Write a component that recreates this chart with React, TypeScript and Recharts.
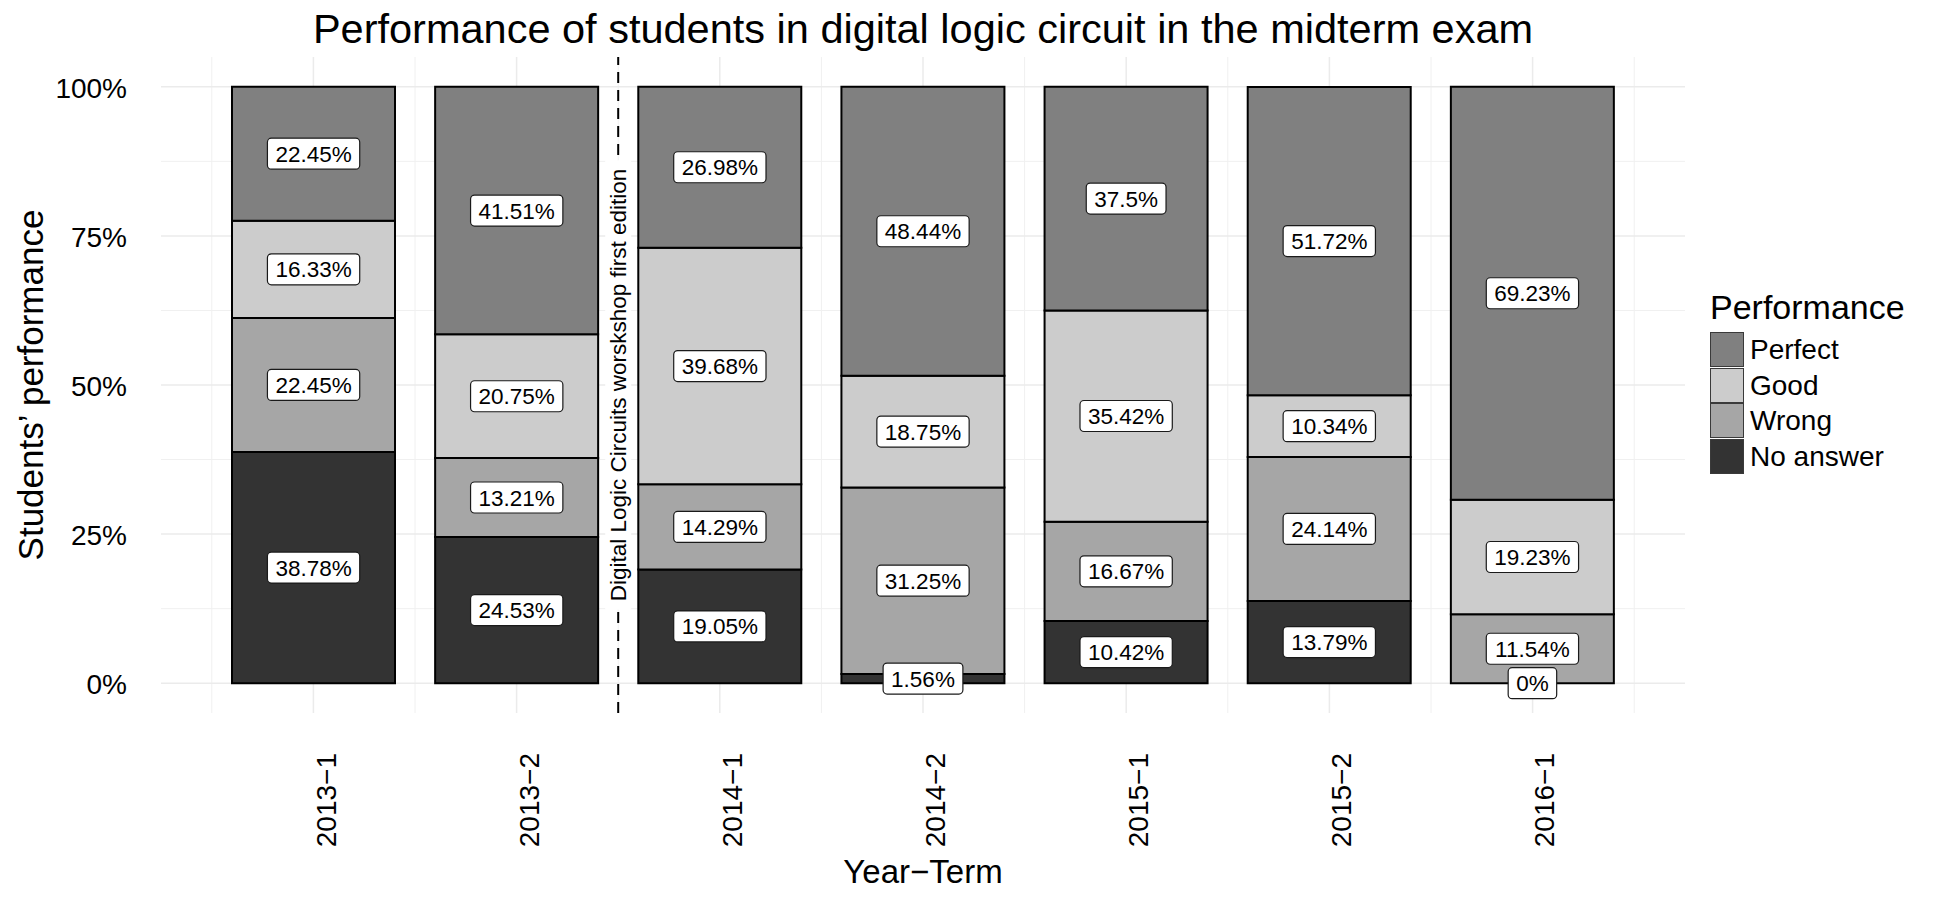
import React from 'react';
import {
  BarChart,
  Bar,
  XAxis,
  YAxis,
  CartesianGrid,
  ReferenceLine,
  ReferenceDot,
  Legend,
} from 'recharts';

// Year-term categories and the share (%) of each performance level
const terms = ['2013−1', '2013−2', '2014−1', '2014−2', '2015−1', '2015−2', '2016−1'];
const perfect = [22.45, 41.51, 26.98, 48.44, 37.5, 51.72, 69.23];
const good = [16.33, 20.75, 39.68, 18.75, 35.42, 10.34, 19.23];
const wrong = [22.45, 13.21, 14.29, 31.25, 16.67, 24.14, 11.54];
const noAnswer = [38.78, 24.53, 19.05, 1.56, 10.42, 13.79, 0];

const yTicks = [0, 25, 50, 75, 100];
const yMinor = [12.5, 37.5, 62.5, 87.5];
const xMajor = [1, 2, 3, 4, 5, 6, 7];
const xMinor = [0.5, 1.5, 2.5, 3.5, 4.5, 5.5, 6.5, 7.5];

// workshop marker sits between 2013-2 and 2014-1
const workshopAt = 2.5;
const workshopNoteAt = 50;
const workshopText = 'Digital Logic Circuits worskshop first edition';

// stacking order bottom -> top
const series = [
  { key: 'noAnswer', name: 'No answer', color: '#333333', values: noAnswer },
  { key: 'wrong', name: 'Wrong', color: '#A6A6A6', values: wrong },
  { key: 'good', name: 'Good', color: '#CCCCCC', values: good },
  { key: 'perfect', name: 'Perfect', color: '#808080', values: perfect },
];
const legendOrder = ['perfect', 'good', 'wrong', 'noAnswer'];

const rows = terms.map((term, i) => ({
  term,
  pos: i + 1,
  perfect: perfect[i],
  good: good[i],
  wrong: wrong[i],
  noAnswer: noAnswer[i],
}));

// one label per stacked segment, placed at the middle of the segment
const segmentLabels = terms.flatMap((term, i) => {
  let base = 0;
  return series.map((s) => {
    const v = s.values[i];
    const mid = base + v / 2;
    base += v;
    return { term, key: s.key, value: v, mid };
  });
});

const FONT = '"Liberation Sans", Arial, Helvetica, sans-serif';

// rough Arial advance widths, enough to size the label boxes
const charW: Record<string, number> = { '.': 0.278, '%': 0.889 };
const textWidth = (s: string, size: number) =>
  s.split('').reduce((acc, c) => acc + (charW[c] ?? 0.556), 0) * size;

const ValueLabel = (props: any) => {
  const { cx, cy, value } = props;
  if (cx == null || cy == null) return null;
  const text = `${value}%`;
  const w = textWidth(text, 22.5) + 16;
  const h = 31;
  return (
    <g>
      <rect x={cx - w / 2} y={cy - h / 2} width={w} height={h} rx={4} ry={4}
        fill="#ffffff" stroke="#1a1a1a" strokeWidth={1.2} />
      <text x={cx} y={cy + 8} textAnchor="middle" fontSize={22.5} fill="#000"
        style={{ fontFamily: FONT }}>{text}</text>
    </g>
  );
};

const WorkshopNote = (props: any) => {
  const { cx, cy } = props;
  if (cx == null || cy == null) return null;
  // letters are narrower than digits, so scale the digit-based estimate down
  const len = textWidth(workshopText, 22.5) * 0.76 + 12;
  return (
    <g>
      <rect x={cx - 13} y={cy - len / 2} width={26} height={len} fill="#ffffff" />
      <text transform={`translate(${cx + 8},${cy}) rotate(-90)`} textAnchor="middle"
        fontSize={22.5} fill="#000" style={{ fontFamily: FONT }}>{workshopText}</text>
    </g>
  );
};

const XTick = (props: any) => {
  const { x, y, payload } = props;
  return (
    <text transform={`translate(${x + 22},${y}) rotate(-90)`} textAnchor="end"
      fontSize={28} fill="#000" style={{ fontFamily: FONT }}>{payload.value}</text>
  );
};

const YTick = (props: any) => {
  const { x, y, payload } = props;
  return (
    <text x={x} y={y + 11} textAnchor="end" fontSize={28} fill="#000"
      style={{ fontFamily: FONT }}>{`${payload.value}%`}</text>
  );
};

const YTitle = (props: any) => {
  const { viewBox } = props;
  const cy = viewBox.y + viewBox.height / 2;
  return (
    <text transform={`translate(${viewBox.x - 18},${cy}) rotate(-90)`} textAnchor="middle"
      fontSize={35} fill="#000" style={{ fontFamily: FONT }}>Students’ performance</text>
  );
};

const XTitle = (props: any) => {
  const { viewBox } = props;
  return (
    <text x={viewBox.x + viewBox.width / 2} y={viewBox.y + 170} textAnchor="middle"
      fontSize={33} fill="#000" style={{ fontFamily: FONT }}>Year−Term</text>
  );
};

const LegendBox = () => (
  <div style={{ fontFamily: FONT, color: '#000', width: 240 }}>
    <div style={{ fontSize: 34, lineHeight: '40px', height: 45 }}>Performance</div>
    {legendOrder.map((k) => {
      const s = series.find((d) => d.key === k)!;
      return (
        <div key={k} style={{ display: 'flex', alignItems: 'center', height: 35.5 }}>
          <div style={{ width: 32, height: 33, background: s.color, border: '1px solid #3a3a3a', boxSizing: 'content-box' }} />
          <span style={{ fontSize: 28, marginLeft: 6, lineHeight: '35px' }}>{s.name}</span>
        </div>
      );
    })}
  </div>
);

export default function App() {
  return (
    <div style={{ position: 'absolute', left: 0, top: 0, width: 1950, height: 900, background: '#fff', fontFamily: FONT }}>
      <div style={{ position: 'absolute', left: 161, width: 1524, top: 8, textAlign: 'center', fontSize: 41.5, lineHeight: 1, color: '#000', whiteSpace: 'nowrap' }}>
        Performance of students in digital logic circuit in the midterm exam
      </div>
      <BarChart width={1950} height={900} data={rows} barSize={163}
        margin={{ top: 57, right: 265, left: 61, bottom: 37 }}>
        <CartesianGrid xAxisId="pos" horizontalValues={yMinor} verticalValues={xMinor}
          stroke="#F0F0F0" strokeWidth={1} />
        <CartesianGrid xAxisId="pos" horizontalValues={yTicks} verticalValues={xMajor}
          stroke="#EBEBEB" strokeWidth={1.5} />
        <XAxis xAxisId="cat" dataKey="term" height={150} padding={{ left: 51, right: 51 }}
          axisLine={false} tickLine={false} tickSize={0} tickMargin={40}
          interval={0} tick={<XTick />} label={<XTitle />} />
        <XAxis xAxisId="pos" dataKey="pos" type="number" domain={[0.25, 7.75]} ticks={xMajor}
          hide allowDataOverflow />
        <YAxis type="number" domain={[-5, 105]} ticks={yTicks} width={100}
          axisLine={false} tickLine={false} tickSize={0} tickMargin={34}
          tick={<YTick />} label={<YTitle />} allowDataOverflow />
        <Legend layout="vertical" align="right" verticalAlign="top"
          wrapperStyle={{ left: 1710, top: 287, width: 0, height: 0, overflow: 'visible' }}
          content={() => <LegendBox />} />
        {series.map((s) => (
          <Bar key={s.key} xAxisId="cat" dataKey={s.key} name={s.name} stackId="perf"
            fill={s.color} stroke="#000" strokeWidth={2} isAnimationActive={false} />
        ))}
        <ReferenceLine xAxisId="pos" x={workshopAt} stroke="#000" strokeWidth={2}
          strokeDasharray="11 7" />
        <ReferenceDot xAxisId="pos" x={workshopAt} y={workshopNoteAt} r={0}
          shape={(p: any) => <WorkshopNote {...p} />} />
        {segmentLabels.map((l) => (
          <ReferenceDot key={`${l.term}-${l.key}`} xAxisId="cat" x={l.term} y={l.mid} r={0}
            shape={(p: any) => <ValueLabel {...p} value={l.value} />} />
        ))}
      </BarChart>
    </div>
  );
}
